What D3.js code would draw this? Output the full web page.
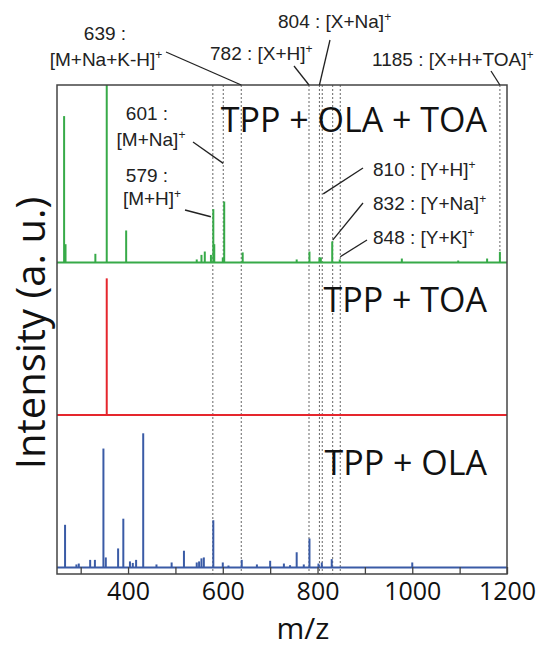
<!DOCTYPE html>
<html><head><meta charset="utf-8">
<script src="https://cdn.jsdelivr.net/npm/d3@7"></script>
<style>body{margin:0;background:#fff}</style>
</head><body>
<svg id="c" width="543" height="648"></svg>
<script>
// ---------- data ----------
const panels = ["TPP + OLA", "TPP + TOA", "TPP + OLA + TOA"];   // bottom -> top
const panelColors = ["#3a5ba6", "#e5262d", "#37aa48"];

const greenMz  = [265, 268, 331, 355, 396, 545, 555, 562, 575, 580, 582, 600, 603, 642, 756, 783, 804, 807, 831, 847, 978, 1097, 1158, 1185];
const greenInt = [96, 12, 5.7, 117, 21, 2, 5, 7.2, 5, 35, 12, 3.3, 40, 6.6, 2, 7.2, 3.3, 3.3, 13.8, 2, 2.6, 1.3, 2.6, 7];

const redMz  = [355];
const redInt = [89.6];

const blueMz  = [267, 291, 296, 320, 330, 348, 353, 379, 390, 404, 410, 417, 432, 460, 492, 518, 545, 550, 555, 560, 580, 600, 612, 640, 672, 700, 729, 742, 756, 771, 783, 802, 809, 830, 1000];
const blueInt = [28, 2, 2.6, 5, 5, 78, 6.6, 12.5, 32, 4, 3, 5, 88, 2, 3.3, 11, 3.3, 4, 6, 6.6, 31, 3.3, 1.3, 5, 2, 4.4, 2.6, 1.5, 10, 2, 19, 2.6, 3.3, 5.5, 3.3];

const xTicks = [300, 400, 500, 600, 700, 800, 900, 1000, 1100, 1200];
const xLabels = [400, 600, 800, 1000, 1200];

const markFull = [579, 639, 782, 804, 810, 832, 848];   // dashed through all panels
const markTop  = [601, 1185];                           // dashed in top panel only

// annotation texts: [main, superscript]
const annoTop = [
  {mz: 639, lines: [["639 :", ""], ["[M+Na+K-H]", "+"]]},
  {mz: 782, lines: [["782 : [X+H]", "+"]]},
  {mz: 804, lines: [["804 : [X+Na]", "+"]]},
  {mz: 1185, lines: [["1185 : [X+H+TOA]", "+"]]}
];
const annoIn = [
  {mz: 601, at: 65, lines: [["601 :", ""], ["[M+Na]", "+"]]},
  {mz: 579, at: 30, lines: [["579 :", ""], ["[M+H]", "+"]]},
  {mz: 810, at: 45, lines: [["810 : [Y+H]", "+"]]},
  {mz: 832, at: 14.7, lines: [["832 : [Y+Na]", "+"]]},
  {mz: 848, at: 3.8, lines: [["848 : [Y+K]", "+"]]}
];

// ---------- layout ----------
const L = 57, R = 507, T = 85, B = 574;
const base0 = 567.5;           // baseline of bottom panel
const unit = 1.525;            // px per intensity unit (100 units per panel)
const svg = d3.select("#c");

const x = d3.scaleLinear().domain([250, 1200]).range([L, R]);
const yMax = (base0 - T) / unit;
const y = d3.scaleLinear().domain([0, yMax]).range([base0, T]);
const off = [0, 100, 200];

// dashed reference lines
const dash = svg.append("g").attr("stroke", "#666").attr("stroke-width", 1).attr("stroke-dasharray", "2,2");
dash.selectAll("line.f").data(markFull).join("line")
  .attr("x1", d => x(d)).attr("x2", d => x(d)).attr("y1", T).attr("y2", B);
dash.selectAll("line.t").data(markTop).join("line")
  .attr("x1", d => x(d)).attr("x2", d => x(d)).attr("y1", T).attr("y2", y(200));

// spectra
const series = [[blueMz, blueInt], [redMz, redInt], [greenMz, greenInt]];
series.forEach((s, i) => {
  const g = svg.append("g").attr("stroke", panelColors[i]);
  g.append("line").attr("x1", L).attr("x2", R).attr("y1", y(off[i])).attr("y2", y(off[i])).attr("stroke-width", 2);
  const pts = s[0].map((m, k) => ({m, v: s[1][k]}));
  g.selectAll("line.p").data(pts).join("line")
    .attr("x1", d => x(d.m)).attr("x2", d => x(d.m))
    .attr("y1", y(off[i])).attr("y2", d => Math.max(T, y(off[i] + d.v)))
    .attr("stroke-width", 2);
});

// frame
svg.append("rect").attr("x", L).attr("y", T).attr("width", R - L).attr("height", B - T)
  .attr("fill", "none").attr("stroke", "#444").attr("stroke-width", 1.5);

// x axis
const ax = svg.append("g").attr("transform", `translate(0,${B})`)
  .call(d3.axisBottom(x).tickValues(xTicks).tickSize(-7).tickSizeOuter(0).tickPadding(8)
        .tickFormat(d => xLabels.includes(d) ? d : ""));
ax.select(".domain").remove();
ax.selectAll(".tick line").attr("stroke", "#444").attr("stroke-width", 1.3);
ax.selectAll(".tick text").attr("font-family", "'Open Sans', sans-serif").attr("font-size", 25).attr("fill", "#111");

// axis titles
svg.append("text").attr("x", 303).attr("y", 639).attr("text-anchor", "middle")
  .attr("font-family", "'Open Sans', sans-serif").attr("font-size", 30).attr("fill", "#111").text("m/z");
svg.append("text").attr("transform", "translate(45,333) rotate(-90)").attr("text-anchor", "middle")
  .attr("font-family", "'Open Sans', sans-serif").attr("font-size", 40).attr("fill", "#111").text("Intensity (a. u.)");

// panel titles
const titleBase = [475, 312, 131.7];
panels.forEach((p, i) => {
  svg.append("text").attr("x", 487).attr("y", titleBase[i]).attr("text-anchor", "end")
    .attr("font-family", "'Open Sans', sans-serif").attr("font-size", 34).attr("fill", "#111").text(p);
});

// annotation helper
function label(xp, yp, parts, anchor) {
  const t = svg.append("text").attr("x", xp).attr("y", yp).attr("text-anchor", anchor)
    .attr("font-family", "'Liberation Sans', Arial, sans-serif").attr("font-size", 19).attr("fill", "#222");
  t.append("tspan").text(parts[0]);
  if (parts[1]) t.append("tspan").attr("font-size", 12).attr("dy", -7).text(parts[1]);
}
const lead = svg.append("g").attr("stroke", "#222").attr("stroke-width", 1.3);

// top annotations (layout)
const topLayout = [
  {pos: [[105, 40, "middle"], [106, 66, "middle"]], from: [166, 52]},
  {pos: [[210, 59.5, "start"]], from: [294, 66]},
  {pos: [[278, 27.5, "start"]], from: [330, 40]},
  {pos: [[372, 65.5, "start"]], from: [491, 71]}
];
annoTop.forEach((a, i) => {
  a.lines.forEach((ln, k) => label(topLayout[i].pos[k][0], topLayout[i].pos[k][1], ln, topLayout[i].pos[k][2]));
  lead.append("line").attr("x1", topLayout[i].from[0]).attr("y1", topLayout[i].from[1])
    .attr("x2", x(a.mz)).attr("y2", T);
});

const inLayout = [
  {pos: [[147, 120, "middle"], [151, 146, "middle"]], from: [193, 142], dx: 0},
  {pos: [[147, 182, "middle"], [152, 205, "middle"]], from: [185, 210], dx: -2},
  {pos: [[373, 176, "start"]], from: [363, 168], dx: 1},
  {pos: [[373, 210, "start"]], from: [363, 203], dx: 0},
  {pos: [[373, 243.5, "start"]], from: [367, 240], dx: 0}
];
annoIn.forEach((a, i) => {
  a.lines.forEach((ln, k) => label(inLayout[i].pos[k][0], inLayout[i].pos[k][1], ln, inLayout[i].pos[k][2]));
  lead.append("line").attr("x1", inLayout[i].from[0]).attr("y1", inLayout[i].from[1])
    .attr("x2", x(a.mz) + inLayout[i].dx).attr("y2", y(200 + a.at));
});
</script>
</body></html>
